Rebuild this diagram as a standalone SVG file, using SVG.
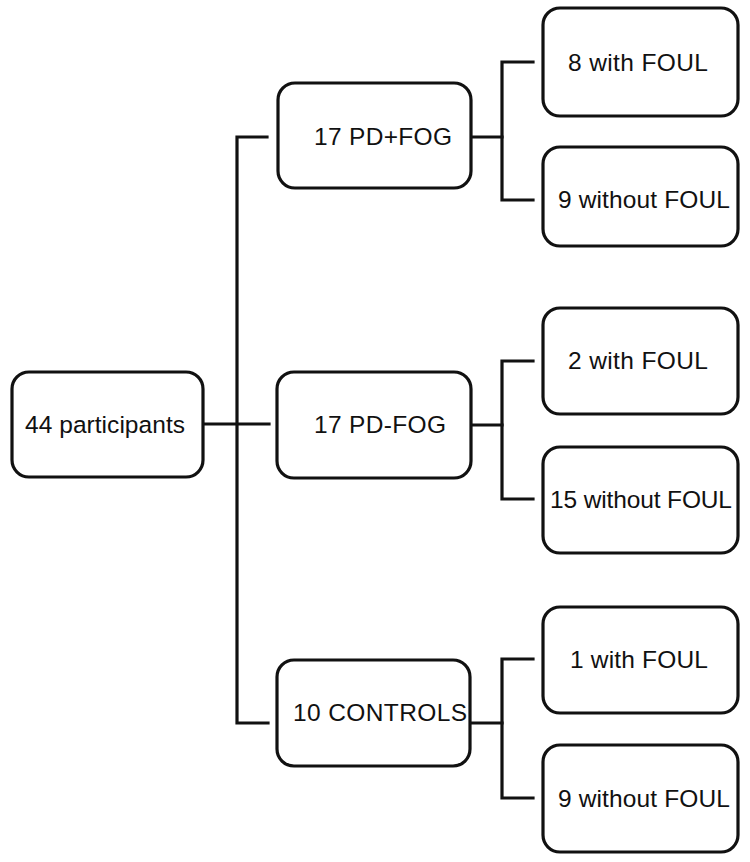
<svg xmlns="http://www.w3.org/2000/svg" width="750" height="862" viewBox="0 0 750 862">
<style>
.box{fill:#fff;stroke:#111;stroke-width:3.2}
.t{font-family:"Liberation Sans",Arial,sans-serif;font-size:24.5px;fill:#111}
.c{fill:none;stroke:#111;stroke-width:3.2;stroke-linecap:square;stroke-linejoin:miter}
</style>
<rect width="750" height="862" fill="#fff"/>
<g id="connectors">
<path class="c" d="M203 424H269"/>
<path class="c" d="M267 137H237V723H268"/>
<path class="c" d="M471 137H502"/>
<path class="c" d="M533 62H502V200H533"/>
<path class="c" d="M471 425H502"/>
<path class="c" d="M533 361H502V499H533"/>
<path class="c" d="M470 723H502"/>
<path class="c" d="M533 659H502V798H533"/>
</g>
<g id="n-participants"><rect class="box" x="12" y="372" width="191" height="105" rx="17"/><text class="t" x="25" y="433" textLength="160">44 participants</text></g>
<g id="n-pdfog-plus"><rect class="box" x="278" y="83" width="193" height="105" rx="17"/><text class="t" x="314" y="145" textLength="138">17 PD+FOG</text></g>
<g id="n-pdfog-minus"><rect class="box" x="277" y="372" width="194" height="106" rx="17"/><text class="t" x="314" y="433" textLength="132">17 PD-FOG</text></g>
<g id="n-controls"><rect class="box" x="277" y="660" width="193" height="106" rx="17"/><text class="t" x="293" y="721" textLength="174">10 CONTROLS</text></g>
<g id="n-8with"><rect class="box" x="543" y="8" width="195" height="108" rx="17"/><text class="t" x="568" y="71" textLength="140">8 with FOUL</text></g>
<g id="n-9without-a"><rect class="box" x="543" y="147" width="195" height="99" rx="17"/><text class="t" x="558" y="208" textLength="172">9 without FOUL</text></g>
<g id="n-2with"><rect class="box" x="543" y="308" width="195" height="106" rx="17"/><text class="t" x="568" y="369" textLength="140">2 with FOUL</text></g>
<g id="n-15without"><rect class="box" x="543" y="447" width="195" height="106" rx="17"/><text class="t" x="550" y="508" textLength="182">15 without FOUL</text></g>
<g id="n-1with"><rect class="box" x="543" y="607" width="195" height="106" rx="17"/><text class="t" x="570" y="668" textLength="138">1 with FOUL</text></g>
<g id="n-9without-b"><rect class="box" x="543" y="745" width="195" height="107" rx="17"/><text class="t" x="558" y="807" textLength="172">9 without FOUL</text></g>
</svg>
